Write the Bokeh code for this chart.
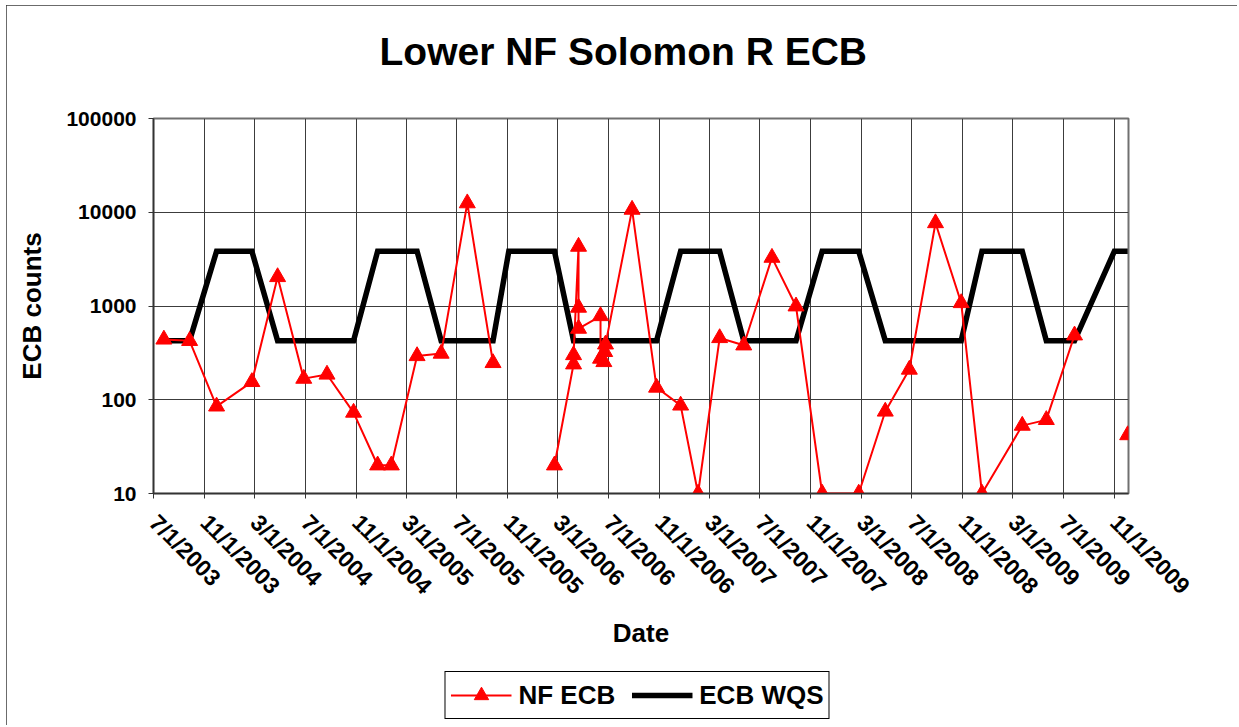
import math
import numpy as np
import pandas as pd
from bokeh.plotting import figure
from bokeh.layouts import column
from bokeh.models import (Range1d, FixedTicker, Legend, LegendItem, Title,
                          ColumnDataSource)
from bokeh.embed import file_html
from bokeh.resources import INLINE

# ---------------- data ----------------
sample_dates = [
    "2003-07-26", "2003-09-26", "2003-11-30", "2004-02-23", "2004-04-25",
    "2004-06-27", "2004-08-22", "2004-10-25", "2004-12-22", "2005-01-24",
    "2005-03-27", "2005-05-24", "2005-07-26", "2005-09-26", "2005-11-03",
    "2006-02-21", "2006-04-08", "2006-04-08", "2006-04-20", "2006-04-20",
    "2006-04-20", "2006-06-12", "2006-06-12", "2006-06-20", "2006-06-22",
    "2006-06-24", "2006-08-27", "2006-10-25", "2006-12-22", "2007-02-02",
    "2007-03-26", "2007-05-23", "2007-07-30", "2007-09-26", "2007-11-28",
    "2008-02-24", "2008-04-28", "2008-06-25", "2008-08-27", "2008-10-28",
    "2008-12-17", "2009-03-24", "2009-05-21", "2009-07-28", "2009-11-01",
    "2009-12-03",
]
nf_ecb = [
    440, 425, 85, 155, 2040,
    168, 186, 73, 20, 20,
    293, 311, 12500, 247, float("nan"),
    20, 239, 300, 4300, 962,
    574, 782, 275, 253, 324,
    390, 10670, 135, 87, 10,
    456, 381, 3280, 993, 10,
    10, 75, 210, 7670, 1077,
    10, 53, 61, 487, float("nan"),
    42,
]
ecb_wqs = [
    427, 427, 3843, 3843, 427,
    427, 427, 427, 3843, 3843,
    3843, 427, 427, 427, 3843,
    3843, 427, 427, 427, 427,
    427, 427, 427, 427, 427,
    427, 427, 427, 3843, 3843,
    3843, 427, 427, 427, 3843,
    3843, 427, 427, 427, 427,
    3843, 3843, 427, 427, 3843,
    3843,
]
x_tick_labels = [
    "7/1/2003", "11/1/2003", "3/1/2004", "7/1/2004", "11/1/2004",
    "3/1/2005", "7/1/2005", "11/1/2005", "3/1/2006", "7/1/2006",
    "11/1/2006", "3/1/2007", "7/1/2007", "11/1/2007", "3/1/2008",
    "7/1/2008", "11/1/2008", "3/1/2009", "7/1/2009", "11/1/2009",
]
y_ticks = [10, 100, 1000, 10000, 100000]
y_tick_labels = ["10", "100", "1000", "10000", "100000"]
x_start, x_end = "2003-07-01", "2009-12-05"
series_names = ["NF ECB", "ECB WQS"]

# ---------------- main figure ----------------
FONT = "Liberation Sans"
dates = pd.to_datetime(sample_dates)
src = ColumnDataSource(dict(date=dates, nf=nf_ecb, wqs=ecb_wqs))

tick_ms = [float(pd.Timestamp(pd.to_datetime(t, format="%m/%d/%Y")).value // 10**6)
           for t in x_tick_labels]

p = figure(
    x_axis_type="datetime", y_axis_type="log",
    x_range=Range1d(pd.Timestamp(x_start), pd.Timestamp(x_end)),
    y_range=Range1d(10, 100000),
    frame_width=975, frame_height=375,
    min_border_left=147, min_border_right=109,
    min_border_top=113, min_border_bottom=232,
    output_backend="svg", toolbar_location=None,
    background_fill_color="white", border_fill_color="white",
)
p.styles = {"outline": "2px solid #3a3a3a", "outline-offset": "-2px",
            "margin": "5px 0px 0px 6px"}
p.title.text = ""

# spacer between frame and title, then the title itself
spacer = Title(text=" ", text_font=FONT, text_font_size="2px", standoff=42)
main_title = Title(text="Lower NF Solomon R ECB", align="left", offset=226,
                   standoff=0, text_font=FONT, text_font_size="39px",
                   text_font_style="bold", text_color="black")
p.add_layout(spacer, "above")
p.add_layout(main_title, "above")

# axes
p.yaxis.ticker = FixedTicker(ticks=y_ticks)
p.yaxis.major_label_overrides = dict(zip(y_ticks, y_tick_labels))
p.xaxis.ticker = FixedTicker(ticks=tick_ms)
p.xaxis.major_label_overrides = dict(zip(tick_ms, x_tick_labels))
p.xaxis.major_label_orientation = -math.pi / 4

for ax in (p.xaxis[0], p.yaxis[0]):
    ax.axis_line_color = "#333333"
    ax.axis_line_width = 1.5
    ax.major_tick_line_color = "#333333"
    ax.major_tick_out = 5
    ax.major_tick_in = 0
    ax.minor_tick_line_color = None
    ax.major_label_text_font = FONT
    ax.major_label_text_font_style = "bold"
    ax.major_label_text_color = "black"
    ax.axis_label_text_font = FONT
    ax.axis_label_text_font_size = "26px"
    ax.axis_label_text_font_style = "bold"
    ax.axis_label_text_color = "black"

p.yaxis.major_label_text_font_size = "21px"
p.xaxis.major_label_text_font_size = "23px"
p.xaxis.axis_label = "Date"
p.yaxis.axis_label = "ECB counts"
p.yaxis.major_label_standoff = 12
p.yaxis.axis_label_standoff = 16
p.xaxis.major_label_standoff = 20
p.xaxis.axis_label_standoff = 7

p.xgrid.grid_line_color = "#3c3c3c"
p.ygrid.grid_line_color = "#3c3c3c"
p.xgrid.grid_line_width = 1
p.ygrid.grid_line_width = 1
p.outline_line_color = "#707070"
p.outline_line_width = 2

# series
p.line("date", "wqs", source=src, line_color="black", line_width=5.5,
       line_join="miter")
p.line("date", "nf", source=src, line_color="#FF0000", line_width=2)
p.scatter("date", "nf", source=src, marker="triangle", size=16,
          fill_color="#FF0000", line_color="#FF0000")

# ---------------- legend strip (own small figure, laid over the bottom) ----
# the strip's ranges exclude all data, so its renderers only feed the legend
lf = figure(frame_width=420, frame_height=52, x_range=Range1d(0, 1),
            y_range=Range1d(0, 1), min_border=0,
            x_axis_location=None, y_axis_location=None,
            output_backend="svg", toolbar_location=None,
            background_fill_color="white", border_fill_color="white")
lf.title.text = ""
lf.grid.visible = False
lf.outline_line_color = None
l_nf_line = lf.line("date", "nf", source=src, line_color="#FF0000", line_width=2)
l_nf_pts = lf.scatter("date", "nf", source=src, marker="triangle",
                      fill_color="#FF0000", line_color="#FF0000")
l_wqs = lf.line("date", "wqs", source=src, line_color="black", line_width=5.5)
legend = Legend(
    items=[LegendItem(label=series_names[0], renderers=[l_nf_line, l_nf_pts]),
           LegendItem(label=series_names[1], renderers=[l_wqs])],
    orientation="horizontal", location="center",
    border_line_color="black", border_line_width=1, border_line_alpha=1,
    background_fill_color="white", background_fill_alpha=1,
    label_text_font=FONT, label_text_font_size="26px",
    label_text_font_style="bold", label_text_color="black",
    glyph_width=61, glyph_height=36, spacing=16, padding=5, margin=0,
    label_standoff=7,
)
lf.add_layout(legend)
lf.styles = {"margin-left": "427px", "margin-top": "-56px"}

col = column(p, lf, spacing=0)

open("out.html", "w").write(file_html(col, INLINE))
